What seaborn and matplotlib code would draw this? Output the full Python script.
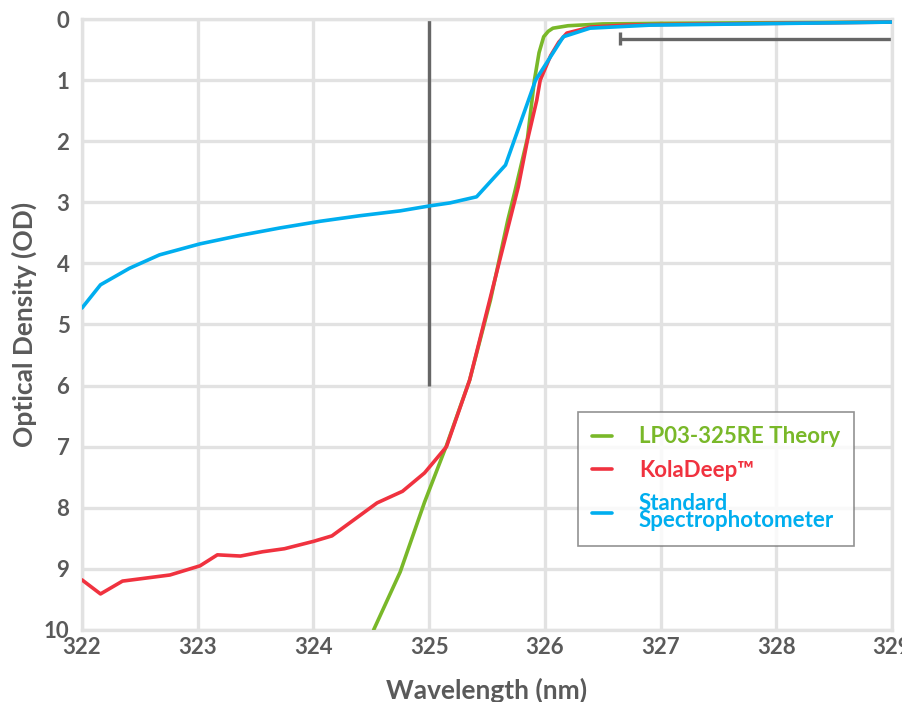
import pandas as pd
import seaborn as sns
import matplotlib.pyplot as plt

# Series (wavelength in nm, optical density)
theory_nm = [324.52, 324.75, 324.96, 325.15, 325.35, 325.53, 325.68, 325.74, 325.85,
             325.91, 325.95, 325.99, 326.03, 326.07, 326.2, 326.5, 327.0, 328.0, 329.0]
theory_od = [10.0, 9.05, 7.91, 6.98, 5.91, 4.6, 3.29, 2.83, 1.95,
             1.0, 0.55, 0.29, 0.2, 0.15, 0.11, 0.08, 0.07, 0.06, 0.05]

kola_nm = [322.0, 322.16, 322.35, 322.76, 323.02, 323.17, 323.37, 323.56, 323.75,
           324.0, 324.16, 324.55, 324.77, 324.96, 325.15, 325.35, 325.55, 325.77,
           325.85, 325.93, 325.96, 326.05, 326.12, 326.19, 326.4, 326.7, 327.0, 328.0, 329.0]
kola_od = [9.18, 9.41, 9.2, 9.1, 8.95, 8.77, 8.79, 8.72, 8.67,
           8.55, 8.46, 7.92, 7.73, 7.43, 7.0, 5.91, 4.4, 2.75,
           1.98, 1.33, 1.0, 0.6, 0.38, 0.23, 0.13, 0.1, 0.09, 0.07, 0.05]

std_nm = [322.0, 322.16, 322.41, 322.67, 323.02, 323.37, 323.71, 324.06, 324.4,
          324.75, 325.0, 325.18, 325.41, 325.66, 325.92, 326.16, 326.39, 326.91, 329.0]
std_od = [4.73, 4.35, 4.08, 3.86, 3.68, 3.54, 3.42, 3.31, 3.22,
          3.14, 3.06, 3.01, 2.91, 2.39, 1.0, 0.29, 0.15, 0.1, 0.05]

labels = ["LP03-325RE Theory", "KolaDeep\u2122", "Standard\nSpectrophotometer"]
colors = ["#79b829", "#f0323f", "#00aeef"]

# reference markers
cut_nm = 325.0
cut_od = (0.0, 6.0)
range_od = 0.32
range_nm = (326.65, 329.0)

df = pd.concat([
    pd.DataFrame({"nm": theory_nm, "od": theory_od, "series": labels[0]}),
    pd.DataFrame({"nm": kola_nm, "od": kola_od, "series": labels[1]}),
    pd.DataFrame({"nm": std_nm, "od": std_od, "series": labels[2]}),
])

sns.set_style("whitegrid")
plt.rcParams['font.family'] = ['Lato', 'DejaVu Sans']

grid_c = "#e2e2e2"
text_c = "#5a5a5a"
dark = "#666666"

fig = plt.figure(figsize=(9.03, 7.02), dpi=100)
ax = fig.add_axes([0.0908, 0.1026, 0.897, 0.8703])

ax.vlines(cut_nm, cut_od[0], cut_od[1], color=dark, linewidth=2.4, zorder=2)
ax.hlines(range_od, range_nm[0], range_nm[1], color=dark, linewidth=2.4, zorder=2)
ax.vlines(range_nm[0], range_od - 0.11, range_od + 0.11, color=dark, linewidth=2.4, zorder=2)

sns.lineplot(data=df, x="nm", y="od", hue="series", palette=dict(zip(labels, colors)),
             sort=False, estimator=None, linewidth=2.6, ax=ax, zorder=3)

ax.set_xlim(322, 329)
ax.set_ylim(10, 0)
ax.set_xticks(range(322, 330))
ax.set_yticks(range(0, 11))
ax.grid(color=grid_c, linewidth=2.4)
ax.set_axisbelow(True)
for s in ax.spines.values():
    s.set_color(grid_c)
    s.set_linewidth(2.4)

ax.tick_params(length=0, labelsize=16, labelcolor=text_c)
ax.tick_params(axis="x", pad=5)
ax.tick_params(axis="y", pad=9)
for t in ax.get_xticklabels() + ax.get_yticklabels():
    t.set_fontweight("bold")

ax.set_xlabel("Wavelength (nm)", fontsize=19, color=text_c, fontweight="bold", labelpad=14)
ax.set_ylabel("Optical Density (OD)", fontsize=19, color=text_c, fontweight="bold", labelpad=5)

leg = ax.legend(loc="upper left", bbox_to_anchor=(0.612, 0.357), frameon=True,
                fancybox=False, handlelength=0.9, handletextpad=1.2, borderaxespad=0,
                borderpad=0.65, labelspacing=0.55, prop={"size": 16, "weight": "bold"})
leg.get_frame().set_edgecolor("#777777")
leg.get_frame().set_linewidth(1.2)
for txt, c in zip(leg.get_texts(), colors):
    txt.set_color(c)
    txt.set_linespacing(0.8)

fig.savefig("out.png", dpi=100)
plt.close()
